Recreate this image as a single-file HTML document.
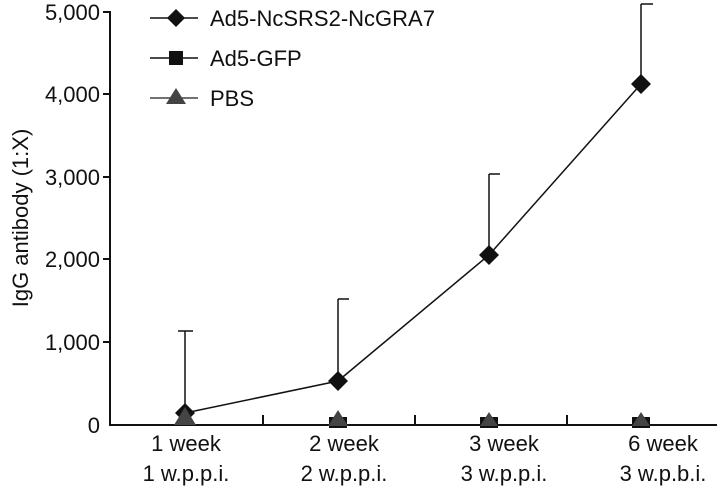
<!DOCTYPE html><html><head><style>body{margin:0;background:#fff}svg{display:block}text{font-family:"Liberation Sans",sans-serif;fill:#111}</style></head><body>
<svg width="717" height="503" viewBox="0 0 717 503">
<g stroke="#111" stroke-width="2" fill="none">
<line x1="110" y1="11" x2="110" y2="425"/>
<line x1="109" y1="425" x2="717" y2="425"/>
<line x1="103" y1="12" x2="110" y2="12"/><line x1="103" y1="94" x2="110" y2="94"/><line x1="103" y1="177" x2="110" y2="177"/><line x1="103" y1="259" x2="110" y2="259"/><line x1="103" y1="342" x2="110" y2="342"/>
<line x1="263" y1="415" x2="263" y2="425"/><line x1="415" y1="415" x2="415" y2="425"/><line x1="567" y1="415" x2="567" y2="425"/>
</g>
<g stroke="#111" stroke-width="1.5" fill="none">
<line x1="185" y1="413" x2="185" y2="331"/><line x1="178" y1="331" x2="193" y2="331"/>
<line x1="338" y1="381" x2="338" y2="299"/><line x1="338" y1="299" x2="349" y2="299"/>
<line x1="489" y1="255" x2="489" y2="174"/><line x1="489" y1="174" x2="500" y2="174"/>
<line x1="641" y1="84" x2="641" y2="4"/><line x1="641" y1="4" x2="653" y2="4"/>
<polyline points="185,413 338,381 489,255 641,84"/>
<line x1="150" y1="18" x2="198" y2="18"/><line x1="150" y1="58" x2="198" y2="58"/><line x1="150" y1="98" x2="198" y2="98" stroke="#444"/>
</g>
<g fill="#111">
<path d="M185 403l10 10-10 10-10-10z"/><path d="M338 371l10 10-10 10-10-10z"/><path d="M489 245l10 10-10 10-10-10z"/><path d="M641 74l10 10-10 10-10-10z"/>
<path d="M176 9l9 9-9 9-9-9z"/>
<rect x="329" y="417" width="18" height="11"/><rect x="480" y="417" width="18" height="11"/><rect x="632" y="417" width="18" height="11"/>
<rect x="169" y="51" width="14" height="14"/>
</g>
<g fill="#444">
<path d="M185 407l11 18h-22z"/><path d="M338 410l10 16h-20z"/><path d="M489 412l9 14h-18z"/><path d="M641 412l9 14h-18z"/>
<path d="M176 88l10 16h-20z"/>
</g>
<g font-size="22" text-anchor="end">
<text x="100" y="20">5,000</text><text x="100" y="102">4,000</text><text x="100" y="185">3,000</text><text x="100" y="267">2,000</text><text x="100" y="350">1,000</text><text x="100" y="433">0</text>
</g>
<g font-size="22" text-anchor="middle">
<text x="186" y="451">1 week</text><text x="186" y="481">1 w.p.p.i.</text>
<text x="344" y="451">2 week</text><text x="344" y="481">2 w.p.p.i.</text>
<text x="504" y="451">3 week</text><text x="504" y="481">3 w.p.p.i.</text>
<text x="663" y="451">6 week</text><text x="663" y="481">3 w.p.b.i.</text>
</g>
<g font-size="22">
<text x="210" y="26">Ad5-NcSRS2-NcGRA7</text><text x="210" y="66">Ad5-GFP</text><text x="210" y="106">PBS</text>
</g>
<text font-size="22" text-anchor="middle" transform="translate(28,218) rotate(-90)">IgG antibody (1:X)</text>
</svg></body></html>
